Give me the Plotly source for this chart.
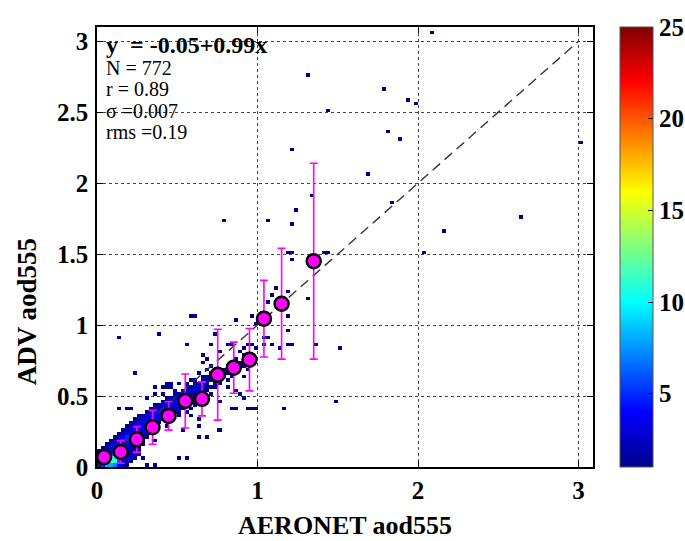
import numpy as np
import plotly.graph_objects as go

# ---- density counts of the core band (0.025 x 0.025 cells) ----
# rows listed from y = 0.875 (top) down to y = 0 (bottom); columns x = 0 .. 1.0
# '.' = empty cell, digits / letters = count (base 36); '|' separates groups of ten
band_rows = [
    "..........|..........|..........|..........",
    "..........|..........|..1.....1.|..11...11.",
    "..........|..........|..........|......1..1",
    "..........|..........|..........|1....1....",
    "..........|..........|......1...|......1...",
    "..........|..........|.......1..|....1.11..",
    "..........|..........|......1...|...1211.1.",
    "..........|..........|........1.|..12.11...",
    "..........|..........|.......1.1|.1121..1..",
    "..........|..........|.....1..12|1211......",
    "..........|..........|......1121|21.1..1...",
    "..........|..........|...11.2121|1.1.......",
    "..........|.......11.|1.1.2132.1|1.........",
    "..........|........1.|..12332111|..1.......",
    "..........|.........1|.1233421..|....1.....",
    "..........|......1..2|2342211.1.|.....1....",
    "..........|.......123|343211....|......1...",
    "..........|......1234|33321.1...|1.........",
    "..........|....123433|321.1.....|..........",
    "..........|...1234443|21.1......|...11..111",
    "..........|..12344421|1.1.......|..........",
    "..........|123444321.|1..1......|..........",
    ".........1|2344431...|..........|..........",
    "........12|344431....|..........|..........",
    ".......123|44431..1..|..........|..........",
    "......1234|44421.....|..........|..........",
    ".....12445|3321......|..........|..........",
    "....124554|321.......|..........|..........",
    "...1245554|21..1.....|..........|..........",
    "..12354431|21........|..........|..........",
    ".123565421|1.........|..........|..........",
    "1123676421|1.........|..........|..........",
    "1246887321|1.........|..........|..........",
    "137aba5321|.1........|1.1.......|..........",
    "26acb6321.|..........|..........|..........",
    "15887421..|..1.1.....|..........|..........",
]

# ---- isolated cells (one retrieval each) ----
sparse_x = [2.09, 1.31, 1.78, 1.44, 1.93, 1.99, 1.81, 1.88, 3.01, 1.68, 1.34, 1.84,
            2.63, 2.16, 1.41, 1.44, 2.03, 1.31, 0.78, 1.06, 1.21, 1.23, 1.19, 1.22,
            1.21, 0.59, 0.62, 0.14, 0.39, 0.86, 0.96, 1.11, 1.085, 1.06, 1.19, 1.19,
            1.19, 1.03, 1.06, 1.03, 1.085, 1.13, 1.19, 1.22, 1.36, 1.51, 1.49, 1.16,
            0.98, 0.76, 0.68, 0.63, 0.63, 0.53, 0.64, 0.24, 0.36, 0.42, 0.44, 0.36,
            0.31, 0.14, 0.19, 0.21, 0.74, 1.21]
sparse_y = [3.07, 2.77, 2.67, 2.52, 2.59, 2.57, 2.37, 2.32, 2.29, 2.07, 1.92, 1.85,
            1.77, 1.67, 1.50, 1.52, 1.52, 1.19, 1.74, 1.74, 1.72, 1.80, 1.52, 1.50,
            1.47, 1.05, 1.05, 0.92, 0.95, 1.03, 1.05, 1.27, 1.22, 1.17, 1.24, 1.07,
            0.97, 0.92, 0.92, 0.87, 0.85, 0.83, 0.87, 0.85, 0.85, 0.83, 0.45, 0.40,
            1.00, 0.25, 0.20, 0.28, 0.22, 0.25, 0.34, 0.65, 0.55, 0.575, 0.575, 0.50,
            0.48, 0.41, 0.41, 0.42, 0.94, 2.24]

# ---- binned means with one standard deviation ----
bin_x = [0.044, 0.148, 0.248, 0.346, 0.446, 0.55, 0.654, 0.752, 0.852, 0.95, 1.04, 1.15, 1.35]
bin_y = [0.07, 0.106, 0.195, 0.28, 0.36, 0.465, 0.48, 0.65, 0.70, 0.756, 1.045, 1.15, 1.45]
bin_err = [0.04, 0.08, 0.09, 0.12, 0.10, 0.19, 0.12, 0.32, 0.18, 0.22, 0.27, 0.39, 0.69]

one_to_one = [0.0, 3.0]
cbar_ticks = [5, 10, 15, 20, 25]
x_ticks = [0, 1, 2, 3]
y_ticks = [0, 0.5, 1, 1.5, 2, 2.5, 3]

stats_lines = ["N = 772", "r = 0.89", "\u03c3 =0.007", "rms =0.19"]
fit_text = "y\u00a0\u00a0= -0.05+0.99x"

BIN = 0.025
NBIN = 124

counts = np.zeros((NBIN, NBIN))
for j, row in enumerate(reversed(band_rows)):
    for i, ch in enumerate(row.replace("|", "")):
        if ch != ".":
            counts[j, i] += int(ch, 36)
for sx, sy in zip(sparse_x, sparse_y):
    counts[int(sy / BIN), int(sx / BIN)] += 1

zgrid = [[(float(v) if v > 0 else None) for v in r] for r in counts]

JET = [[0.0, "#00008f"], [0.125, "#0000ff"], [0.375, "#00ffff"],
       [0.625, "#ffff00"], [0.875, "#ff0000"], [1.0, "#800000"]]

SERIF = "Liberation Serif"

fig = go.Figure()
fig.add_trace(go.Heatmap(
    z=zgrid, x0=BIN / 2, dx=BIN, y0=BIN / 2, dy=BIN,
    colorscale=JET, zmin=1, zmax=25, hoverongaps=False, zsmooth=False,
    colorbar=dict(
        x=1.0544, xanchor="left", xpad=0,
        y=0.5, yanchor="middle", len=1, lenmode="fraction", ypad=0,
        thickness=33, thicknessmode="pixels",
        outlinewidth=1, outlinecolor="#555",
        tickvals=cbar_ticks, ticks="inside", ticklen=5, tickcolor="black",
        tickfont=dict(family=SERIF, size=25, color="black", weight="bold"),
    ),
))
fig.add_trace(go.Scatter(
    x=one_to_one, y=one_to_one, mode="lines",
    line=dict(color="#333333", width=1.4, dash="10px,6px"),
    hoverinfo="skip", showlegend=False,
))
fig.add_trace(go.Scatter(
    x=bin_x, y=bin_y, mode="markers",
    marker=dict(size=14, color="#ff00ff", line=dict(color="black", width=2.5)),
    error_y=dict(type="data", array=bin_err, color="#ff00ff", thickness=1.6, width=4),
    showlegend=False,
))

axis_common = dict(
    ticks="inside", ticklen=6, tickwidth=1.2, tickcolor="black",
    showline=True, linecolor="black", linewidth=1.5, mirror="ticks",
    showgrid=True, gridcolor="#444444", griddash="dot", gridwidth=1.2,
    zeroline=False,
    tickfont=dict(family=SERIF, size=25, color="black", weight="bold"),
)

fig.update_layout(
    width=685, height=541,
    margin=dict(l=97, r=92, t=27, b=74, autoexpand=False),
    paper_bgcolor="white", plot_bgcolor="white",
    showlegend=False,
    xaxis=dict(range=[0, 3.09], tickvals=x_ticks, ticklabelstandoff=0, **axis_common),
    yaxis=dict(range=[0, 3.1], tickvals=y_ticks, ticklabelstandoff=2, **axis_common),
)

annotations = [
    dict(x=0.5, y=-0.132, xref="paper", yref="paper", text="AERONET aod555",
         showarrow=False, xanchor="center", yanchor="middle",
         font=dict(family=SERIF, size=26, color="black", weight="bold")),
    dict(x=-0.141, y=0.352, xref="paper", yref="paper", text="ADV aod555",
         textangle=-90, showarrow=False, xanchor="center", yanchor="middle",
         font=dict(family=SERIF, size=27, color="black", weight="bold")),
    dict(x=0.014, y=0.958, xref="paper", yref="paper", text=fit_text,
         showarrow=False, xanchor="left", yanchor="middle",
         font=dict(family=SERIF, size=24, color="black", weight="bold")),
]
for k, line in enumerate(stats_lines):
    annotations.append(dict(
        x=0.014, y=0.907 - 0.0485 * k, xref="paper", yref="paper", text=line,
        showarrow=False, xanchor="left", yanchor="middle",
        font=dict(family=SERIF, size=20, color="black")))
fig.update_layout(annotations=annotations)

fig.write_html("out.html")
